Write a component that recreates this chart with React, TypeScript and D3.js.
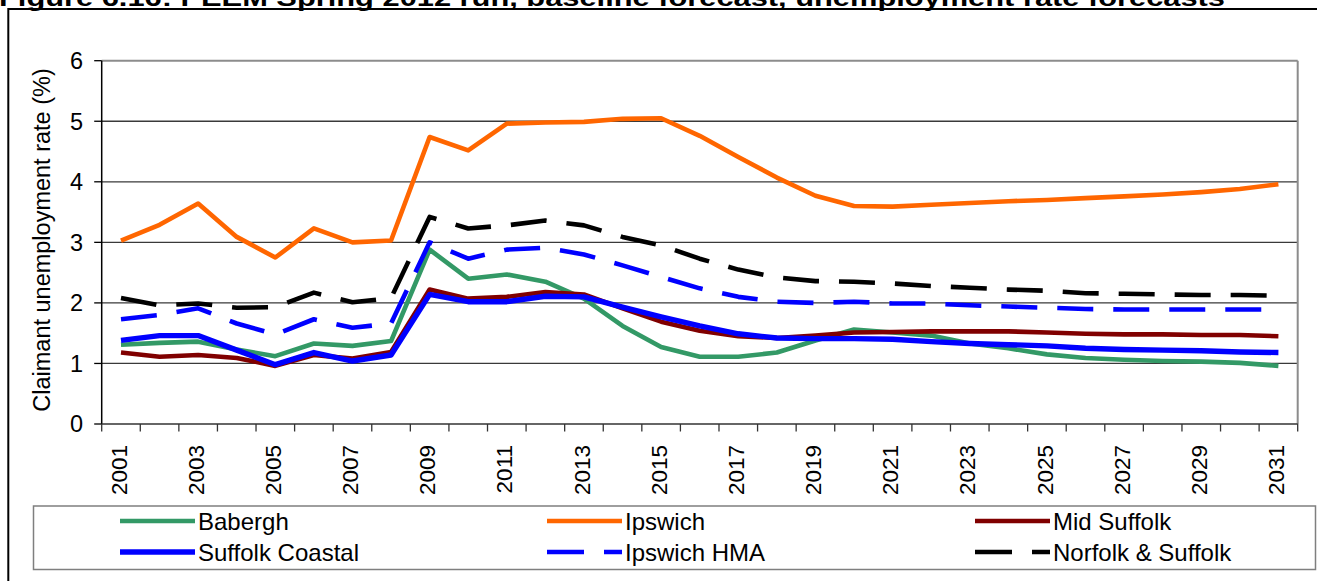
import React from "react";
import * as d3 from "d3";

const years: string[] = d3.range(2001, 2032).map(String);
const yTicks: number[] = [0, 1, 2, 3, 4, 5, 6];
const xLabelYears: string[] = years.filter((_, i) => i % 2 === 0);

const babergh: number[] = [1.31, 1.34, 1.36, 1.23, 1.12, 1.33, 1.29, 1.37, 2.88, 2.40, 2.47, 2.35, 2.07, 1.62, 1.27, 1.11, 1.11, 1.18, 1.38, 1.56, 1.51, 1.46, 1.33, 1.25, 1.15, 1.09, 1.06, 1.04, 1.03, 1.01, 0.96];
const ipswich: number[] = [3.03, 3.29, 3.64, 3.09, 2.75, 3.23, 3.00, 3.03, 4.74, 4.52, 4.96, 4.98, 4.99, 5.04, 5.05, 4.76, 4.41, 4.07, 3.77, 3.60, 3.59, 3.62, 3.65, 3.68, 3.70, 3.73, 3.76, 3.79, 3.83, 3.88, 3.96];
const midSuffolk: number[] = [1.18, 1.11, 1.14, 1.09, 0.96, 1.14, 1.08, 1.19, 2.22, 2.07, 2.10, 2.18, 2.14, 1.91, 1.69, 1.54, 1.45, 1.42, 1.46, 1.51, 1.52, 1.53, 1.53, 1.53, 1.51, 1.49, 1.48, 1.48, 1.47, 1.47, 1.45];
const suffolkCoastal: number[] = [1.38, 1.46, 1.46, 1.22, 0.98, 1.18, 1.04, 1.14, 2.14, 2.02, 2.02, 2.11, 2.10, 1.93, 1.77, 1.62, 1.49, 1.42, 1.41, 1.41, 1.40, 1.36, 1.33, 1.31, 1.29, 1.25, 1.23, 1.22, 1.21, 1.19, 1.18];
const ipswichHMA: number[] = [1.73, 1.80, 1.91, 1.66, 1.48, 1.73, 1.59, 1.66, 3.00, 2.73, 2.88, 2.91, 2.80, 2.62, 2.43, 2.24, 2.10, 2.02, 2.00, 2.02, 1.99, 1.99, 1.96, 1.94, 1.92, 1.90, 1.89, 1.89, 1.89, 1.89, 1.89];
const norfolkSuffolk: number[] = [2.08, 1.96, 1.99, 1.92, 1.93, 2.17, 2.01, 2.08, 3.42, 3.23, 3.28, 3.36, 3.28, 3.09, 2.95, 2.73, 2.55, 2.42, 2.36, 2.35, 2.32, 2.28, 2.25, 2.22, 2.20, 2.16, 2.15, 2.14, 2.13, 2.13, 2.12];

const seriesNames: string[] = ["Babergh", "Ipswich", "Mid Suffolk", "Suffolk Coastal", "Ipswich HMA", "Norfolk & Suffolk"];
const seriesValues: number[][] = [babergh, ipswich, midSuffolk, suffolkCoastal, ipswichHMA, norfolkSuffolk];
const seriesColors: string[] = ["#339966", "#FF6600", "#800000", "#0000FF", "#0000FF", "#000000"];
const seriesDashed: boolean[] = [false, false, false, false, true, true];
const seriesWidths: number[] = [4.6, 4.6, 4.6, 5.4, 4.6, 4.6];

const titleText = "Figure 6.16: PEEM Spring 2012 run, baseline forecast, unemployment rate forecasts";
const yTitle = "Claimant unemployment rate (%)";

const FONT = "'Liberation Sans', Arial, Helvetica, sans-serif";

export default function App() {
  const W = 1317, H = 581;
  const left = 101.7, right = 1297.7, top = 60.7, bottom = 424;
  const x = d3.scaleBand<string>().domain(years).range([left, right]).paddingInner(0).paddingOuter(0);
  const y = d3.scaleLinear().domain([0, 6]).range([bottom, top]);
  const cx = (yr: string) => (x(yr) as number) + x.bandwidth() / 2;
  const line = d3.line<number>().x((_, i) => cx(years[i])).y((v) => y(v));

  const boundaries = d3.range(0, years.length + 1).map((i) => left + i * x.bandwidth());

  const legCols = [120, 547, 975];
  const legRows = [521, 552];
  const sampleLen = 75;

  return (
    <svg width={W} height={H} style={{ position: "absolute", left: 0, top: 0, display: "block", background: "#fff" }} fontFamily={FONT}>
      <rect x={0} y={0} width={W} height={H} fill="#fff" />
      {/* title (cut off at the top edge, as in the reference) */}
      <text x={-1} y={5.5} fontSize={24} fontWeight="bold" textLength={1226} lengthAdjust="spacingAndGlyphs" fill="#000">{titleText}</text>
      {/* outer frame */}
      <line x1={8.3} x2={W + 5} y1={9} y2={9} stroke="#000" strokeWidth={2} />
      <line x1={8.3} x2={8.3} y1={8} y2={H + 5} stroke="#000" strokeWidth={2} />

      {/* gridlines */}
      {yTicks.filter((t) => t > 0 && t < 6).map((t) => (
        <line key={"g" + t} x1={left} x2={right} y1={y(t)} y2={y(t)} stroke="#3a3a3a" strokeWidth={1.3} />
      ))}
      <line x1={left} x2={right} y1={y(6)} y2={y(6)} stroke="#8c8c8c" strokeWidth={2} />
      <line x1={right} x2={right} y1={y(6)} y2={bottom} stroke="#8c8c8c" strokeWidth={2} />

      {/* y axis */}
      <line x1={left} x2={left} y1={top} y2={bottom} stroke="#000" strokeWidth={1.5} />
      {yTicks.map((t) => (
        <g key={"yt" + t}>
          <line x1={left - 7.5} x2={left} y1={y(t)} y2={y(t)} stroke="#000" strokeWidth={1.3} />
          <text x={83} y={y(t)} dy="0.36em" textAnchor="end" fontSize={23.5} fill="#000">{t}</text>
        </g>
      ))}
      <text transform={`translate(50,240) rotate(-90)`} textAnchor="middle" fontSize={23.5} fill="#000">{yTitle}</text>

      {/* x axis */}
      <line x1={left} x2={right} y1={bottom} y2={bottom} stroke="#333" strokeWidth={1.5} />
      {boundaries.map((b, i) => (
        <line key={"xt" + i} x1={b} x2={b} y1={bottom} y2={bottom + 7.5} stroke="#333" strokeWidth={1.3} />
      ))}
      {xLabelYears.map((yr) => (
        <text key={"xl" + yr} transform={`translate(${cx(yr) - 2.5},445) rotate(-90)`} textAnchor="end" dy="0.36em" fontSize={22.5} fill="#000">{yr}</text>
      ))}

      {/* series */}
      {seriesValues.map((vals, si) => (
        <path key={"s" + si} d={line(vals) as string} fill="none" stroke={seriesColors[si]} strokeWidth={seriesWidths[si]}
          strokeDasharray={seriesDashed[si] ? "36 20" : undefined} strokeLinejoin="round" strokeLinecap="butt" />
      ))}

      {/* legend */}
      <rect x={33.5} y={506} width={1282} height={63.5} fill="#fff" stroke="#7f7f7f" strokeWidth={1.5} />
      {seriesNames.map((name, si) => {
        const col = si % 3, row = Math.floor(si / 3);
        const lx = legCols[col], ly = legRows[row];
        return (
          <g key={"lg" + si}>
            <line x1={lx} x2={lx + sampleLen} y1={ly} y2={ly} stroke={seriesColors[si]} strokeWidth={seriesWidths[si]}
              strokeDasharray={seriesDashed[si] ? "37 20" : undefined} />
            <text x={lx + sampleLen + 3} y={ly} dy="0.36em" fontSize={24} fill="#000">{name}</text>
          </g>
        );
      })}
    </svg>
  );
}
